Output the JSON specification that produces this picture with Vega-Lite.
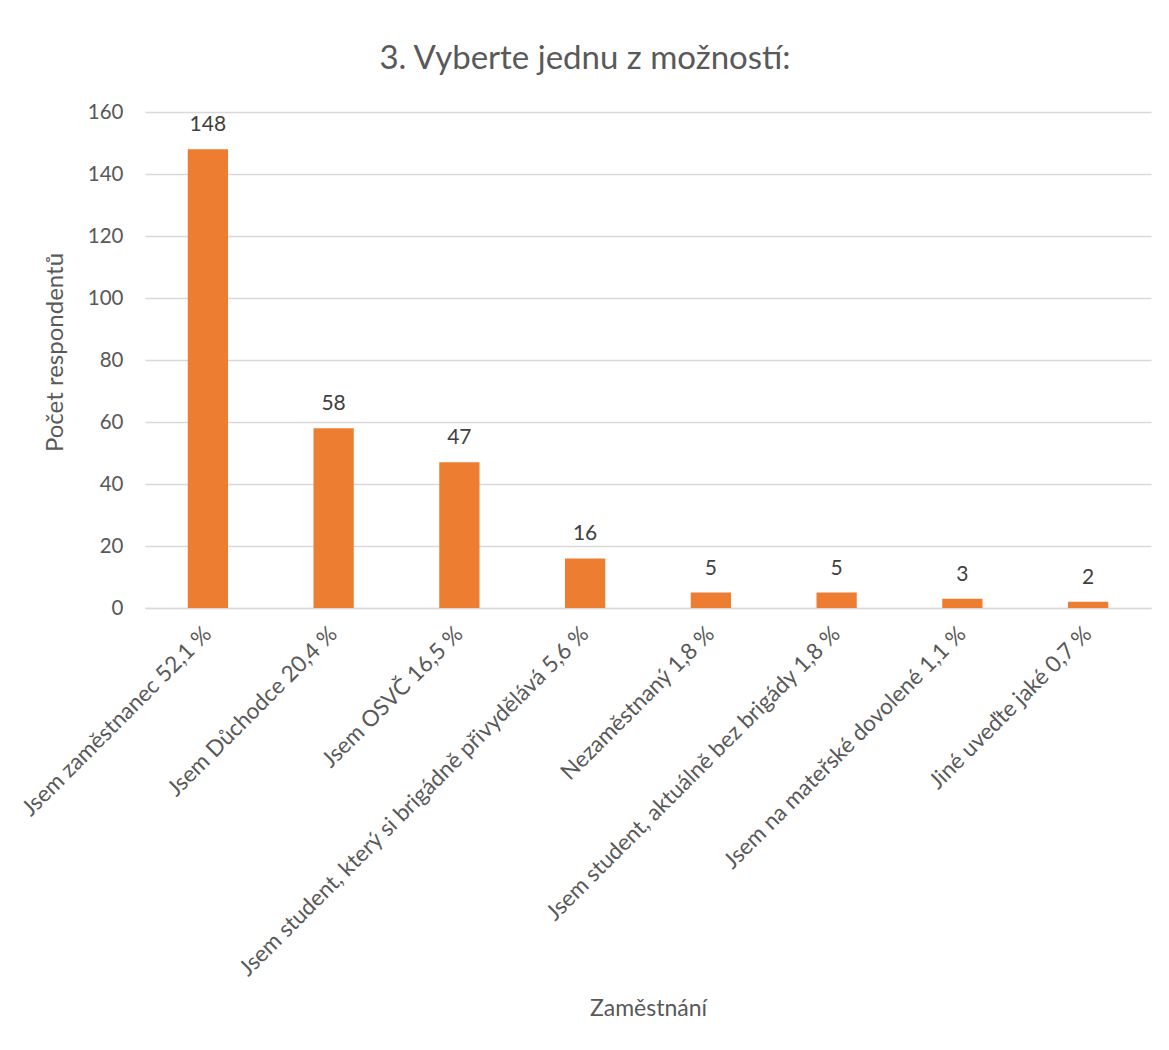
{
  "$schema": "https://vega.github.io/schema/vega-lite/v6.json",
  "autosize": {"type": "none"},
  "width": 1006,
  "height": 496,
  "padding": {"left": 145, "top": 112, "right": 18, "bottom": 442},
  "background": "white",
  "title": {
    "text": "3. Vyberte jednu z možností:",
    "font": "Lato",
    "fontSize": 33,
    "fontWeight": "normal",
    "color": "#595959",
    "anchor": "middle",
    "dx": -63,
    "offset": 26
  },
  "data": {
    "values": [
      {"kategorie": "Jsem zaměstnanec 52,1 %", "pocet": 148},
      {"kategorie": "Jsem Důchodce 20,4 %", "pocet": 58},
      {"kategorie": "Jsem OSVČ 16,5 %", "pocet": 47},
      {"kategorie": "Jsem student, který si brigádně přivydělává 5,6 %", "pocet": 16},
      {"kategorie": "Nezaměstnaný 1,8 %", "pocet": 5},
      {"kategorie": "Jsem student, aktuálně bez brigády 1,8 %", "pocet": 5},
      {"kategorie": "Jsem na mateřské dovolené 1,1 %", "pocet": 3},
      {"kategorie": "Jiné uveďte jaké 0,7 %", "pocet": 2}
    ]
  },
  "encoding": {
    "x": {
      "field": "kategorie",
      "type": "nominal",
      "sort": null,
      "title": "Zaměstnání",
      "scale": {"paddingInner": 0.68, "paddingOuter": 0.34},
      "axis": {
        "labelAngle": -45,
        "labelAlign": "right",
        "labelBaseline": "middle",
        "labelFont": "Lato",
        "labelFontSize": 22.5,
        "labelColor": "#595959",
        "labelPadding": 22,
        "labelLimit": 0,
        "ticks": false,
        "tickSize": 0,
        "domainColor": "#D9D9D9",
        "domainWidth": 1.5,
        "titleFont": "Lato",
        "titleFontSize": 23,
        "titleFontWeight": "normal",
        "titleColor": "#595959",
        "titleY": 400,
        "titleBaseline": "middle"
      }
    },
    "y": {
      "field": "pocet",
      "type": "quantitative",
      "title": "Počet respondentů",
      "scale": {"domain": [0, 160]},
      "axis": {
        "values": [0, 20, 40, 60, 80, 100, 120, 140, 160],
        "domain": false,
        "ticks": false,
        "tickSize": 0,
        "labelFont": "Lato",
        "labelFontSize": 20.5,
        "labelColor": "#595959",
        "labelPadding": 22,
        "gridColor": "#D9D9D9",
        "gridWidth": 1.5,
        "titleFont": "Lato",
        "titleFontSize": 24,
        "titleFontWeight": "normal",
        "titleColor": "#595959",
        "titleX": -90,
        "titleBaseline": "middle",
        "titleY": 240
      }
    }
  },
  "layer": [
    {"mark": {"type": "bar", "color": "#ED7D31"}},
    {
      "mark": {"type": "text", "font": "Lato", "fontSize": 21, "color": "#404040", "baseline": "alphabetic", "dy": -18},
      "encoding": {"text": {"field": "pocet", "type": "quantitative"}}
    }
  ],
  "config": {"view": {"stroke": null}}
}
